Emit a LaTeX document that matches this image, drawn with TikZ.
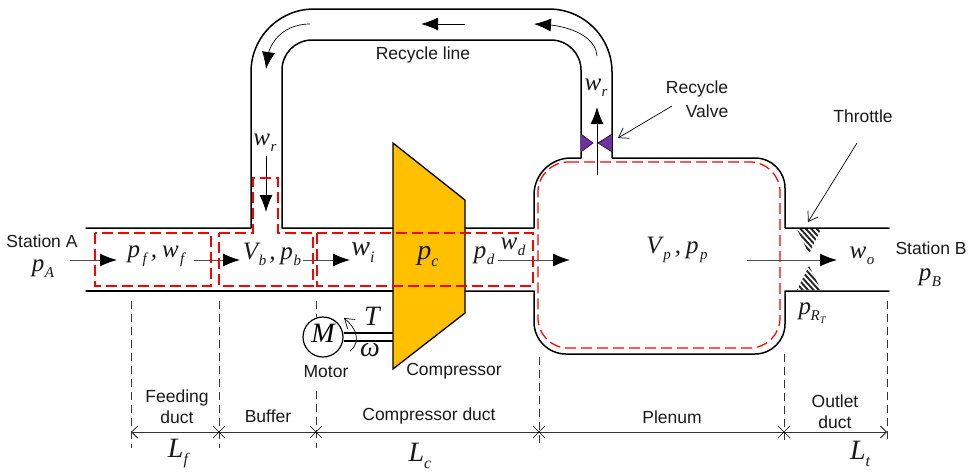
\documentclass[tikz,border=0pt]{standalone}
\usepackage{fontspec}
\setmainfont{Liberation Sans}
\newfontfamily\mathtm{Liberation Serif}
\usetikzlibrary{arrows.meta,shapes.misc,bending}
\newcommand{\sym}[2]{{\fontsize{25}{25}\selectfont\mathtm\itshape #1\ifx&#2&\else\kern.5pt\raisebox{-6pt}{\fontsize{15}{15}\selectfont #2}\fi}}
\newcommand{\bigsym}[2]{{\fontsize{28}{28}\selectfont\mathtm\itshape #1\raisebox{-7pt}{\fontsize{16}{16}\selectfont #2}}}
\newcommand{\cma}{\kern3pt{\fontsize{25}{25}\selectfont\mathtm\itshape ,}\kern5pt}
\definecolor{comp}{HTML}{FFC000}
\definecolor{valve}{HTML}{7030A0}
\tikzset{
  wall/.style={line width=1.5pt,black,line cap=round,line join=round},
  cv/.style={red,line width=1.25pt,dash pattern=on 11pt off 5pt},
  flow/.style={line width=1pt,black!70,-{Latex[length=17pt,width=13pt,black]}},
  curved/.style={line width=.7pt,black,-{Latex[length=17pt,width=13pt,flex]}},
  lead/.style={line width=.7pt,black,-{Straight Barb[length=9pt,width=12pt]}},
  guide/.style={line width=.8pt,black!80,dash pattern=on 8pt off 5pt},
  dim/.style={line width=.9pt,black!80},
  tick/.style={cross out,draw=black,line width=.6pt,minimum size=12pt,inner sep=0pt,outer sep=0pt},
  lab/.style={font=\fontsize{17.5}{21}\selectfont,align=center,inner sep=0pt,text=black!90},
  sy/.style={inner sep=0pt,text=black!90},
}
\begin{document}
\begin{tikzpicture}[x=1pt,y=-1pt]
\useasboundingbox (0,0) rectangle (969,474);
% flow arrows
\coordinate (fa1) at (70,260); \coordinate (fb1) at (117,260);
\coordinate (fa2) at (194,260); \coordinate (fb2) at (240,260);
\coordinate (fa3) at (303,260); \coordinate (fb3) at (350,260);
\coordinate (fa4) at (498,260); \coordinate (fb4) at (570,260);
\coordinate (fa5) at (747,260); \coordinate (fb5) at (837,260);
\coordinate (ra) at (266,156); \coordinate (rb) at (266,212);
\coordinate (ua) at (597,175); \coordinate (ub) at (597,107);
\coordinate (ta) at (465,24); \coordinate (tb) at (421,24);
\draw[flow] (fa1) -- (fb1);
\draw[flow] (fa2) -- (fb2);
\draw[flow] (fa3) -- (fb3);
\draw[flow] (fa5) -- (fb5);
\draw[flow,black] (ra) -- (rb);
\draw[flow,black] (ua) -- (ub);
\draw[flow,black] (ta) -- (tb);
% compressor
\path[fill=comp,draw=black,line width=1.3pt,line join=miter] (393,143) -- (465,200) -- (465,313) -- (393,369) -- cycle;
\draw[flow] (fa4) -- (fb4);
% walls
\draw[wall] (86,228) -- (251,228) -- (251,72) arc[start angle=180,end angle=270,radius=63] -- (549,9) arc[start angle=270,end angle=360,radius=63] -- (612,158) -- (755,158) arc[start angle=270,end angle=360,radius=30] -- (785,228) -- (889,228);
\draw[wall] (393,228) -- (282,228) -- (282,70) arc[start angle=180,end angle=270,radius=30] -- (551,40) arc[start angle=270,end angle=360,radius=30] -- (581,158) -- (571,158) arc[start angle=270,end angle=180,radius=37] -- (534,228) -- (465,228);
\draw[wall] (86,291) -- (393,291);
\draw[wall] (465,291) -- (534,291) -- (534,322) arc[start angle=180,end angle=90,radius=32] -- (755,354) arc[start angle=90,end angle=0,radius=30] -- (785,291) -- (889,291);
% control volumes
\draw[cv] (95,233) rectangle (211,286);
\draw[cv] (219,233) -- (253,233) -- (253,178) -- (278,178) -- (278,233) -- (313,233) -- (313,286) -- (219,286) -- cycle;
\draw[cv] (317,233) rectangle (533,286);
\draw[cv] (568,162) -- (750,162) arc[start angle=270,end angle=360,radius=30] -- (780,318) arc[start angle=0,end angle=90,radius=30] -- (568,348) arc[start angle=90,end angle=180,radius=30] -- (538,192) arc[start angle=180,end angle=270,radius=30] -- cycle;
% recycle arrows
\coordinate (b1a) at (310,24); \coordinate (b1b) at (266,69);
\coordinate (b2a) at (597,56); \coordinate (b2b) at (534,24);
\draw[curved] (b1a) .. controls (284,24) and (266,42) .. (b1b);
\draw[curved] (b2a) .. controls (596,38) and (572,24) .. (b2b);
% valve
\fill[valve] (581,134) -- (581,152) -- (593,143) -- cycle;
\fill[valve] (612,134) -- (612,152) -- (598,143) -- cycle;
\draw[line width=.5pt,black] (581,134) -- (593,143) -- (581,152) (612,134) -- (598,143) -- (612,152);
% throttle
\begin{scope}
\clip (797,229) -- (821,229) -- (809,254) -- cycle;
\foreach \k in {0,...,10} \draw[line width=1.9pt,black!85] (770+\k*5.4,225) -- (800+\k*5.4,258);
\end{scope}
\begin{scope}
\clip (797,290) -- (821,290) -- (809,266) -- cycle;
\foreach \k in {0,...,10} \draw[line width=1.9pt,black!85] (770+\k*5.4,260) -- (800+\k*5.4,293);
\end{scope}
% motor
\node[circle,draw=black,line width=1.2pt,minimum size=40pt,inner sep=0pt,fill=white] (motor) at (323,337) {\bigsym{M}{}};
\coordinate (s1) at (393,333); \coordinate (s2) at (393,341);
\draw[line width=1.1pt] (motor.east |- s1) -- (s1) (motor.east |- s2) -- (s2);
\coordinate (ma) at (350,351); \coordinate (mb) at (344,318);
\draw[lead] (ma) .. controls (358,345) and (361,332) .. (mb);
% leaders
\node[lab] (rv1) at (697,89) {Recycle};
\node[lab] (rv2) at (707,111) {Valve};
\node[lab] (thr) at (863,116) {Throttle};
\coordinate (rva) at (672,106); \coordinate (rvt) at (618,138);
\coordinate (tha) at (857,143); \coordinate (thrt) at (808,222);
\draw[lead] (rva) -- (rvt);
\draw[lead] (tha) -- (thrt);
% guides
\coordinate (d1) at (131,432); \coordinate (d2) at (219,432); \coordinate (d3) at (316,432); \coordinate (d4) at (539,432); \coordinate (d5) at (784,432); \coordinate (d6) at (887,432);
\draw[guide] (131,301) -- (131,448);
\draw[guide] (219,301) -- (219,448);
\draw[guide] (316,301) -- (316,317);
\draw[guide] (316,391) -- (316,448);
\draw[guide] (539,357) -- (539,448);
\draw[guide] (784,354) -- (784,442);
\draw[guide] (887,301) -- (887,442);
\draw[dim,{Straight Barb[length=6pt,width=12pt]}-{Straight Barb[length=6pt,width=12pt]}] (d1) -- (d6);
\node[tick] (t2) at (d2) {};
\node[tick] (t3) at (d3) {};
\node[tick] (t4) at (d4) {};
\node[tick] (t5) at (d5) {};
% labels
\node[lab] (sa) at (42,241) {Station A};
\node[sy] (pa) at (43,269) {\sym{p}{A}};
\node[lab] (sb) at (931,248) {Station B};
\node[sy] (pb) at (930,278) {\sym{p}{B}};
\node[sy] (pfwf) at (156,256) {\sym{p}{\kern2pt f}\kern1pt\cma\sym{w}{\kern1pt f}};
\node[sy] (vbpb) at (272,254) {\sym{V}{b}\cma\sym{p}{b}};
\node[sy] (wi) at (363,253) {\bigsym{w}{i}};
\node[sy] (pc) at (428,256) {\bigsym{p}{c}};
\node[sy] (pd) at (484,256) {\sym{p}{d}};
\node[sy] (wd) at (513,247) {\sym{w}{d}};
\node[sy] (vp) at (677,250) {\sym{V}{\kern1pt p}\kern1pt\cma\sym{p}{\kern1pt p}};
\node[sy] (wo) at (862,256) {\sym{w}{o}};
\node[sy] (wr1) at (265,143) {\sym{w}{r}};
\node[sy] (wr2) at (596,88) {\sym{w}{r}};
\node[sy] (prt) at (812,313) {\sym{p}{\kern-1pt R\raisebox{-3pt}{\fontsize{10}{10}\selectfont T}}};
\node[sy] (tq) at (372,320) {\bigsym{T}{}};
\node[sy] (om) at (370,353) {\bigsym{ω}{}};
\node[lab] (rl) at (423,55) {Recycle line};
\node[lab] (mo) at (326,372) {Motor};
\node[lab] (co) at (454,371) {Compressor};
\node[lab] (fd) at (177,407) {Feeding\\duct};
\node[lab] (bu) at (268,416) {Buffer};
\node[lab] (cd) at (429,416) {Compressor duct};
\node[lab] (pl) at (672,417) {Plenum};
\node[lab] (od) at (835,412) {Outlet\\duct};
\node[sy] (lf) at (178,454) {\bigsym{L}{f}};
\node[sy] (lc) at (420,456) {\bigsym{L}{c}};
\node[sy] (lt) at (860,454) {\bigsym{L}{t}};
\end{tikzpicture}
\end{document}
